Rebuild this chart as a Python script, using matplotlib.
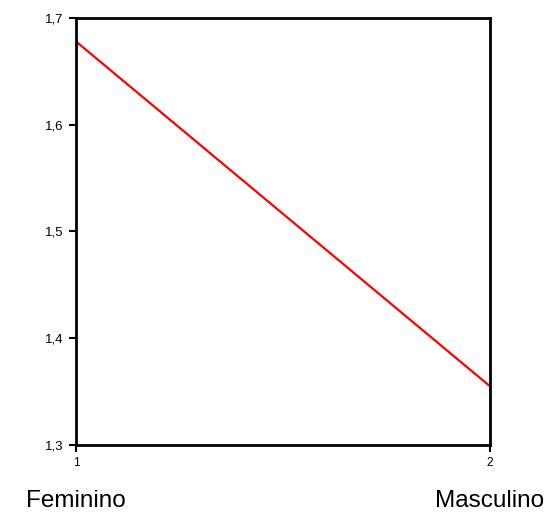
import matplotlib
matplotlib.use("Agg")
import matplotlib.pyplot as plt

plt.rcParams['font.family'] = ['Liberation Sans', 'DejaVu Sans']

x_vals = [1, 2]
y_vals = [1.678, 1.355]
y_ticks = [1.3, 1.4, 1.5, 1.6, 1.7]
y_labels = ['1,3', '1,4', '1,5', '1,6', '1,7']
groups = ['Feminino', 'Masculino']

fig = plt.figure(figsize=(5.57, 5.12), dpi=100)
ax = fig.add_axes([0.1364, 0.1309, 0.7433, 0.834])

ax.plot(x_vals, y_vals, color='#ff0000', lw=1.6)

ax.set_xlim(1, 2)
ax.set_ylim(1.3, 1.7)
ax.set_xticks(x_vals)
ax.set_xticklabels(['1', '2'], fontsize=8.5)
ax.set_yticks(y_ticks)
ax.set_yticklabels(y_labels, fontsize=9.5)
ax.tick_params(direction='out', length=5, width=1.5, pad=4)
for s in ax.spines.values():
    s.set_linewidth(2)

for xv, g in zip(x_vals, groups):
    ax.annotate(g, xy=(xv, 0), xycoords=('data', 'axes fraction'),
                xytext=(0, -45), textcoords='offset points',
                ha='center', va='baseline', fontsize=17.5, annotation_clip=False)

fig.savefig('out.png', dpi=100)
